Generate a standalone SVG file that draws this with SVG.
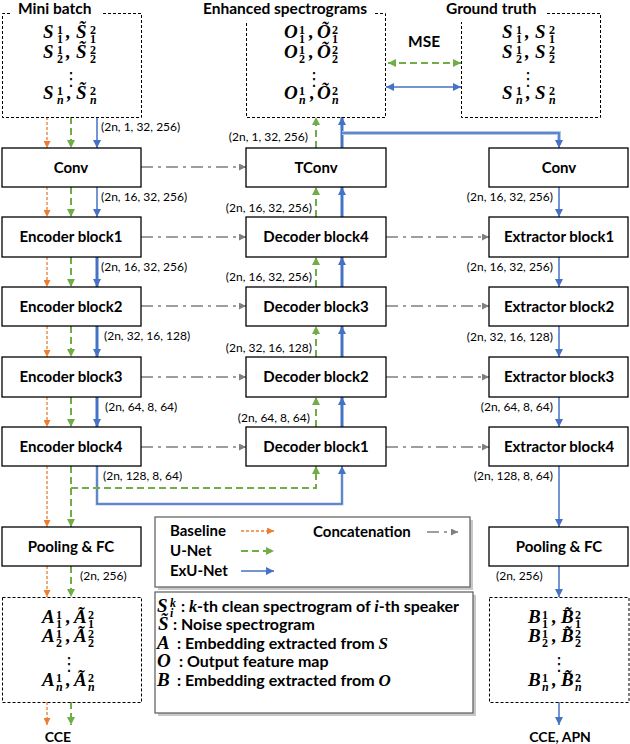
<svg xmlns="http://www.w3.org/2000/svg" width="630" height="744" viewBox="0 0 630 744">
<defs>
<style>
.box{fill:#fff;stroke:#000;stroke-width:1.3}
.dpath{fill:none;stroke:#000;stroke-width:1;stroke-dasharray:3,2}
.lbl{font-family:Lato,"Liberation Sans",sans-serif;font-weight:bold;font-size:15px;text-anchor:middle;fill:#000}
.ttl{font-family:Lato,"Liberation Sans",sans-serif;font-weight:bold;font-size:15.5px;fill:#000}
.dim{font-family:Lato,"Liberation Sans",sans-serif;font-size:12px;fill:#000}
.dimr{font-family:Lato,"Liberation Sans",sans-serif;font-size:12px;fill:#000;text-anchor:end}
.m{font-family:"Liberation Serif",serif;font-weight:bold;font-style:italic;font-size:19px;fill:#000}
.s{font-size:12px;font-style:normal}
.si{font-size:12px;font-style:italic}
.dots{font-family:"DejaVu Sans",sans-serif;font-size:18px;text-anchor:middle}
.lg{font-family:Lato,"Liberation Sans",sans-serif;font-weight:bold;font-size:16px;fill:#000}
.lgi{font-family:"Liberation Serif",serif;font-style:italic;font-weight:bold}
.or{fill:none;stroke:#ED7D31;stroke-width:1.3;stroke-dasharray:3,2;marker-end:url(#ao)}
.gr{fill:none;stroke:#70AD47;stroke-width:2;stroke-dasharray:7,4;marker-end:url(#ag)}
.bl{fill:none;stroke:#4472C4;stroke-width:1.5;marker-end:url(#ab)}
.blt{fill:none;stroke:#4472C4;stroke-width:3;marker-end:url(#ab)}
.cc{fill:none;stroke:#7F7F7F;stroke-width:1.6;stroke-dasharray:12,5,3,5;marker-end:url(#ax)}
</style>
<marker id="ao" viewBox="0 0 10 10" refX="10" refY="5" markerWidth="7" markerHeight="7" markerUnits="userSpaceOnUse" orient="auto-start-reverse"><path d="M0,0 L10,5 L0,10 z" fill="#ED7D31"/></marker>
<marker id="ag" viewBox="0 0 10 10" refX="10" refY="5" markerWidth="8" markerHeight="8" markerUnits="userSpaceOnUse" orient="auto-start-reverse"><path d="M0,0 L10,5 L0,10 z" fill="#70AD47"/></marker>
<marker id="ab" viewBox="0 0 10 10" refX="10" refY="5" markerWidth="8" markerHeight="8" markerUnits="userSpaceOnUse" orient="auto-start-reverse"><path d="M0,0 L10,5 L0,10 z" fill="#4472C4"/></marker>
<marker id="ax" viewBox="0 0 10 10" refX="10" refY="5" markerWidth="7" markerHeight="7" markerUnits="userSpaceOnUse" orient="auto-start-reverse"><path d="M0,0 L10,5 L0,10 z" fill="#7F7F7F"/></marker>
</defs>
<rect width="630" height="744" fill="#fff"/>

<g id="connectors">
<path class="or" d="M47 117 V148"/>
<path class="or" d="M47 187 V217"/>
<path class="or" d="M47 257 V287"/>
<path class="or" d="M47 326 V357"/>
<path class="or" d="M47 397 V427"/>
<path class="or" d="M47 466 V527"/>
<path class="or" d="M47 566 V597"/>
<path class="or" d="M47 702 V725"/>
<path class="gr" d="M71 117 V148"/>
<path class="gr" d="M71 187 V217"/>
<path class="gr" d="M71 257 V287"/>
<path class="gr" d="M71 326 V357"/>
<path class="gr" d="M71 397 V427"/>
<path class="gr" d="M71 466 V527"/>
<path class="gr" d="M71 566 V597"/>
<path class="gr" d="M71 702 V725"/>
<path class="bl" d="M97 117 V148"/>
<path class="bl" d="M97 187 V217"/>
<path class="blt" d="M97 257 V287"/>
<path class="blt" d="M97 326 V357"/>
<path class="blt" d="M97 397 V427"/>
<path d="M97 466 V504 H342 V470" fill="none" stroke="#B4C7E7" stroke-width="3"/>
<path class="bl" d="M97 466 V504 H342 V466"/>
<path class="gr" d="M71 488 H316 V466"/>
<path class="gr" d="M316 427 V397"/>
<path class="gr" d="M316 357 V326"/>
<path class="gr" d="M316 287 V257"/>
<path class="gr" d="M316 217 V187"/>
<path class="gr" d="M316 148 V117"/>
<path class="blt" d="M342 427 V397"/>
<path class="blt" d="M342 357 V326"/>
<path class="blt" d="M342 287 V257"/>
<path class="blt" d="M342 217 V187"/>
<path class="blt" d="M342 148 V117"/>
<path d="M342 133 H559 V145" fill="none" stroke="#B4C7E7" stroke-width="4"/>
<path class="bl" d="M342 133 H559 V148"/>
<path class="bl" d="M559 187 V217"/>
<path class="bl" d="M559 257 V287"/>
<path class="bl" d="M559 326 V357"/>
<path class="bl" d="M559 397 V427"/>
<path class="bl" d="M559 466 V527"/>
<path class="bl" d="M559 566 V597"/>
<path class="bl" d="M559 702 V725"/>
<path class="gr" d="M388 63 H461" style="marker-start:url(#ag)"/>
<path class="bl" d="M386 87 H461" style="marker-start:url(#ab)"/>
<path class="cc" d="M141 167 H246"/>
<path class="cc" d="M141 237 H246"/>
<path class="cc" d="M141 306 H246"/>
<path class="cc" d="M141 377 H246"/>
<path class="cc" d="M141 447 H246"/>
<path class="cc" d="M386 237 H489"/>
<path class="cc" d="M386 306 H489"/>
<path class="cc" d="M386 377 H489"/>
<path class="cc" d="M386 447 H489"/>
</g>

<g id="mini-batch">
<path class="dpath" d="M10 13.5 H2.5 V117.5 H141.5 V13.5 H103"/>
<text class="ttl" x="18" y="14">Mini batch</text>
<text class="m"><tspan x="43" y="38">S</tspan><tspan class="s" x="57" y="34">1</tspan><tspan class="s" x="57" y="43">1</tspan><tspan x="66" y="38">,</tspan><tspan x="76" y="38">S̃</tspan><tspan class="s" x="90" y="34">2</tspan><tspan class="s" x="90" y="43">1</tspan></text>
<text class="m"><tspan x="43" y="58">S</tspan><tspan class="s" x="57" y="54">1</tspan><tspan class="s" x="57" y="63">2</tspan><tspan x="66" y="58">,</tspan><tspan x="76" y="58">S̃</tspan><tspan class="s" x="90" y="54">2</tspan><tspan class="s" x="90" y="63">2</tspan></text>
<text class="dots" x="71" y="85">⋮</text>
<text class="m"><tspan x="43" y="99">S</tspan><tspan class="s" x="57" y="95">1</tspan><tspan class="si" x="57" y="104">n</tspan><tspan x="67" y="99">,</tspan><tspan x="76" y="99">S̃</tspan><tspan class="s" x="90" y="95">2</tspan><tspan class="si" x="90" y="104">n</tspan></text>
</g>

<g id="enhanced-spectrograms">
<path class="dpath" d="M375 13.5 H385.5 V117.5 H246.5 V22"/>
<text class="ttl" x="203" y="14">Enhanced spectrograms</text>
<text class="m"><tspan x="284" y="38">O</tspan><tspan class="s" x="299" y="34">1</tspan><tspan class="s" x="299" y="43">1</tspan><tspan x="309" y="38">,</tspan><tspan x="317" y="38">Õ</tspan><tspan class="s" x="332" y="34">2</tspan><tspan class="s" x="332" y="43">1</tspan></text>
<text class="m"><tspan x="284" y="58">O</tspan><tspan class="s" x="299" y="54">1</tspan><tspan class="s" x="299" y="63">2</tspan><tspan x="309" y="58">,</tspan><tspan x="317" y="58">Õ</tspan><tspan class="s" x="332" y="54">2</tspan><tspan class="s" x="332" y="63">2</tspan></text>
<text class="dots" x="314" y="85">⋮</text>
<text class="m"><tspan x="284" y="99">O</tspan><tspan class="s" x="299" y="95">1</tspan><tspan class="si" x="299" y="104">n</tspan><tspan x="310" y="99">,</tspan><tspan x="317" y="99">Õ</tspan><tspan class="s" x="332" y="95">2</tspan><tspan class="si" x="332" y="104">n</tspan></text>
</g>

<g id="mse">
<text class="ttl" x="408" y="47">MSE</text>
</g>

<g id="ground-truth">
<path class="dpath" d="M547 13.5 H600.5 V117.5 H461.5 V22"/>
<text class="ttl" x="446" y="14">Ground truth</text>
<text class="m"><tspan x="502" y="38">S</tspan><tspan class="s" x="516" y="34">1</tspan><tspan class="s" x="516" y="43">1</tspan><tspan x="525" y="38">,</tspan><tspan x="535" y="38">S</tspan><tspan class="s" x="549" y="34">2</tspan><tspan class="s" x="549" y="43">1</tspan></text>
<text class="m"><tspan x="502" y="58">S</tspan><tspan class="s" x="516" y="54">1</tspan><tspan class="s" x="516" y="63">2</tspan><tspan x="525" y="58">,</tspan><tspan x="535" y="58">S</tspan><tspan class="s" x="549" y="54">2</tspan><tspan class="s" x="549" y="63">2</tspan></text>
<text class="dots" x="528" y="85">⋮</text>
<text class="m"><tspan x="502" y="99">S</tspan><tspan class="s" x="516" y="95">1</tspan><tspan class="si" x="516" y="104">n</tspan><tspan x="526" y="99">,</tspan><tspan x="535" y="99">S</tspan><tspan class="s" x="549" y="95">2</tspan><tspan class="si" x="549" y="104">n</tspan></text>
</g>

<g id="conv"><rect class="box" x="2" y="148" width="139" height="39"/><text class="lbl" x="71" y="173">Conv</text></g>
<g id="encoder-block1"><rect class="box" x="2" y="217" width="139" height="40"/><text class="lbl" x="71" y="242">Encoder block1</text></g>
<g id="encoder-block2"><rect class="box" x="2" y="287" width="139" height="39"/><text class="lbl" x="71" y="312">Encoder block2</text></g>
<g id="encoder-block3"><rect class="box" x="2" y="357" width="139" height="40"/><text class="lbl" x="71" y="382">Encoder block3</text></g>
<g id="encoder-block4"><rect class="box" x="2" y="427" width="139" height="39"/><text class="lbl" x="71" y="452">Encoder block4</text></g>
<g id="pooling-fc-left"><rect class="box" x="2" y="527" width="139" height="39"/><text class="lbl" x="71" y="552">Pooling &amp; FC</text></g>

<g id="tconv"><rect class="box" x="246" y="148" width="140" height="39"/><text class="lbl" x="316" y="173">TConv</text></g>
<g id="decoder-block4"><rect class="box" x="246" y="217" width="140" height="40"/><text class="lbl" x="316" y="242">Decoder block4</text></g>
<g id="decoder-block3"><rect class="box" x="246" y="287" width="140" height="39"/><text class="lbl" x="316" y="312">Decoder block3</text></g>
<g id="decoder-block2"><rect class="box" x="246" y="357" width="140" height="40"/><text class="lbl" x="316" y="382">Decoder block2</text></g>
<g id="decoder-block1"><rect class="box" x="246" y="427" width="140" height="39"/><text class="lbl" x="316" y="452">Decoder block1</text></g>

<g id="conv-right"><rect class="box" x="489" y="148" width="139" height="39"/><text class="lbl" x="559" y="173">Conv</text></g>
<g id="extractor-block1"><rect class="box" x="489" y="217" width="139" height="40"/><text class="lbl" x="559" y="242">Extractor block1</text></g>
<g id="extractor-block2"><rect class="box" x="489" y="287" width="139" height="39"/><text class="lbl" x="559" y="312">Extractor block2</text></g>
<g id="extractor-block3"><rect class="box" x="489" y="357" width="139" height="40"/><text class="lbl" x="559" y="382">Extractor block3</text></g>
<g id="extractor-block4"><rect class="box" x="489" y="427" width="139" height="39"/><text class="lbl" x="559" y="452">Extractor block4</text></g>
<g id="pooling-fc-right"><rect class="box" x="489" y="527" width="139" height="39"/><text class="lbl" x="559" y="552">Pooling &amp; FC</text></g>

<g id="dims">
<text class="dim" x="101" y="131">(2n, 1, 32, 256)</text>
<text class="dim" x="101" y="201">(2n, 16, 32, 256)</text>
<text class="dim" x="101" y="271">(2n, 16, 32, 256)</text>
<text class="dim" x="104" y="340">(2n, 32, 16, 128)</text>
<text class="dim" x="105" y="411">(2n, 64, 8, 64)</text>
<text class="dim" x="103" y="480">(2n, 128, 8, 64)</text>
<text class="dimr" x="308" y="141">(2n, 1, 32, 256)</text>
<text class="dimr" x="312" y="212">(2n, 16, 32, 256)</text>
<text class="dimr" x="312" y="281">(2n, 16, 32, 256)</text>
<text class="dimr" x="312" y="352">(2n, 32, 16, 128)</text>
<text class="dimr" x="310" y="422">(2n, 64, 8, 64)</text>
<text class="dimr" x="553" y="201">(2n, 16, 32, 256)</text>
<text class="dimr" x="553" y="271">(2n, 16, 32, 256)</text>
<text class="dimr" x="553" y="341">(2n, 32, 16, 128)</text>
<text class="dimr" x="553" y="411">(2n, 64, 8, 64)</text>
<text class="dimr" x="553" y="480">(2n, 128, 8, 64)</text>
<text class="dim" x="80" y="580">(2n, 256)</text>
<text class="dim" x="496" y="580">(2n, 256)</text>
</g>

<g id="embeddings-a">
<path class="dpath" d="M2.5 597.5 H141.5 V702.5 H2.5 Z"/>
<text class="m"><tspan x="42" y="623">A</tspan><tspan class="s" x="56" y="619">1</tspan><tspan class="s" x="56" y="628">1</tspan><tspan x="66" y="623">,</tspan><tspan x="74" y="623">Ã</tspan><tspan class="s" x="88" y="619">2</tspan><tspan class="s" x="88" y="628">1</tspan></text>
<text class="m"><tspan x="42" y="642">A</tspan><tspan class="s" x="56" y="638">1</tspan><tspan class="s" x="56" y="647">2</tspan><tspan x="66" y="642">,</tspan><tspan x="74" y="642">Ã</tspan><tspan class="s" x="88" y="638">2</tspan><tspan class="s" x="88" y="647">2</tspan></text>
<text class="dots" x="69" y="670">⋮</text>
<text class="m"><tspan x="42" y="686">A</tspan><tspan class="s" x="56" y="682">1</tspan><tspan class="si" x="56" y="691">n</tspan><tspan x="66" y="686">,</tspan><tspan x="74" y="686">Ã</tspan><tspan class="s" x="88" y="682">2</tspan><tspan class="si" x="88" y="691">n</tspan></text>
</g>
<g id="cce"><text class="ttl" x="58" y="742" text-anchor="middle" style="font-size:14px">CCE</text></g>

<g id="embeddings-b">
<path class="dpath" d="M489.5 597.5 H629 V702.5 H489.5 Z"/>
<text class="m"><tspan x="528" y="623">B</tspan><tspan class="s" x="542" y="619">1</tspan><tspan class="s" x="542" y="628">1</tspan><tspan x="552" y="623">,</tspan><tspan x="561" y="623">B̃</tspan><tspan class="s" x="575" y="619">2</tspan><tspan class="s" x="575" y="628">1</tspan></text>
<text class="m"><tspan x="528" y="642">B</tspan><tspan class="s" x="542" y="638">1</tspan><tspan class="s" x="542" y="647">2</tspan><tspan x="552" y="642">,</tspan><tspan x="561" y="642">B̃</tspan><tspan class="s" x="575" y="638">2</tspan><tspan class="s" x="575" y="647">2</tspan></text>
<text class="dots" x="559" y="670">⋮</text>
<text class="m"><tspan x="528" y="686">B</tspan><tspan class="s" x="542" y="682">1</tspan><tspan class="si" x="542" y="691">n</tspan><tspan x="552" y="686">,</tspan><tspan x="561" y="686">B̃</tspan><tspan class="s" x="575" y="682">2</tspan><tspan class="si" x="575" y="691">n</tspan></text>
</g>
<g id="cce-apn"><text class="ttl" x="560" y="742" text-anchor="middle" style="font-size:14px">CCE, APN</text></g>

<g id="legend-arrows">
<rect x="158" y="520" width="315" height="70" fill="#C8C8C8"/>
<rect x="155" y="517" width="315" height="70" fill="#fff" stroke="#666" stroke-width="1.3"/>
<text class="ttl" x="170" y="536" style="font-size:15px">Baseline</text>
<text class="ttl" x="170" y="556" style="font-size:15px">U-Net</text>
<text class="ttl" x="170" y="576" style="font-size:15px">ExU-Net</text>
<text class="ttl" x="313" y="537" style="font-size:15px">Concatenation</text>
<path class="or" d="M241 531 H274"/>
<path class="gr" d="M241 551 H274"/>
<path class="bl" d="M241 571 H274"/>
<path d="M427 532 H458" fill="none" stroke="#7F7F7F" stroke-width="1.6" stroke-dasharray="12,5,3,5" marker-end="url(#ax)"/>
</g>

<g id="legend-symbols">
<rect x="158" y="595" width="318" height="121" fill="#C8C8C8"/>
<rect x="155" y="592" width="318" height="121" fill="#fff" stroke="#666" stroke-width="1.3"/>
<text class="m"><tspan x="157" y="612">S</tspan><tspan class="si" x="170" y="607">k</tspan><tspan class="si" x="170" y="617">i</tspan></text>
<text class="lg" x="181" y="612">: <tspan class="lgi">k</tspan>-th clean spectrogram of <tspan class="lgi">i</tspan>-th speaker</text>
<text class="m"><tspan x="158" y="630">S̃</tspan></text>
<text class="lg" x="173" y="630">: Noise spectrogram</text>
<text class="m"><tspan x="157" y="649">A</tspan></text>
<text class="lg" x="177" y="649">: Embedding extracted from <tspan class="lgi" style="font-size:17px">S</tspan></text>
<text class="m"><tspan x="157" y="667">O</tspan></text>
<text class="lg" x="179" y="667">: Output feature map</text>
<text class="m"><tspan x="157" y="686">B</tspan></text>
<text class="lg" x="177" y="686">: Embedding extracted from <tspan class="lgi" style="font-size:17px">O</tspan></text>
</g>
</svg>
